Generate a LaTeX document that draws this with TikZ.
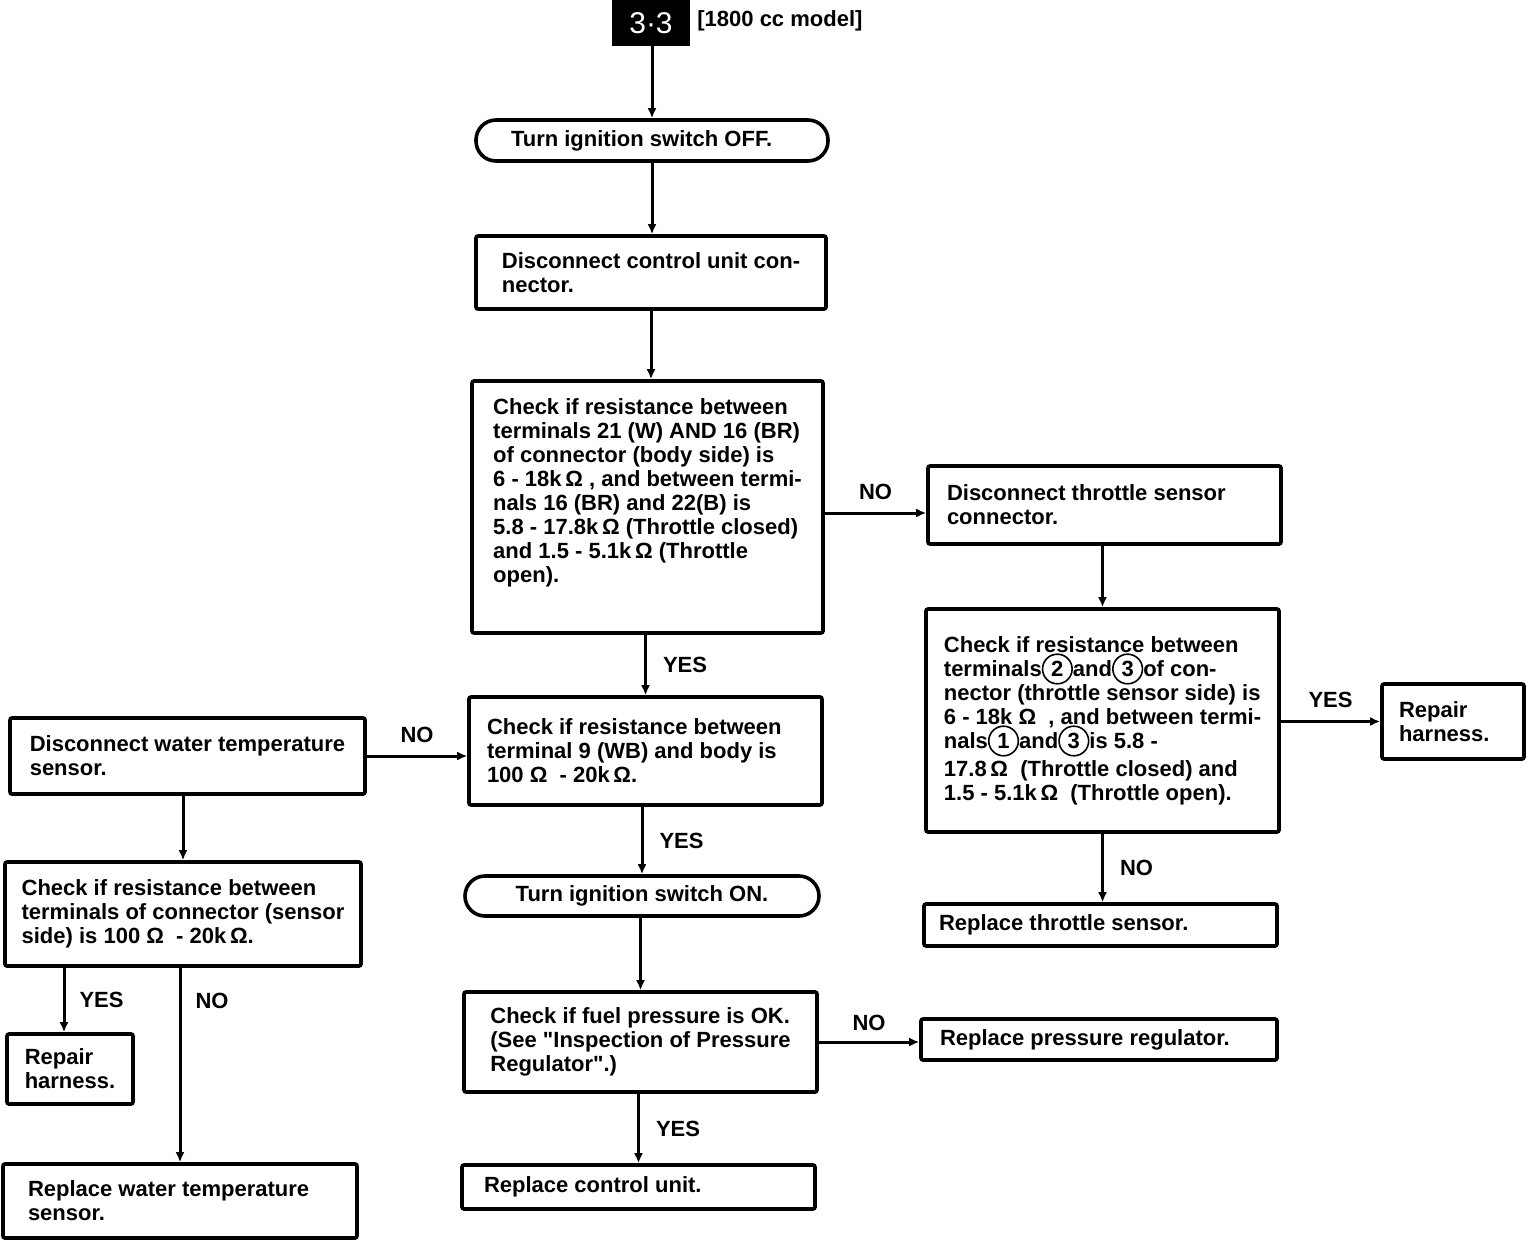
\documentclass[tikz,border=0pt]{standalone}
\usepackage{fontspec}
\setmainfont{Liberation Sans}
\usetikzlibrary{arrows.meta}
\usetikzlibrary{positioning}
\tikzset{box/.style = {draw, line width=1.8pt, rounded corners=1pt, align=flush left,
                       inner xsep=0pt, inner ysep=0pt},
         pill/.style = {draw, line width=1.8pt, rounded corners=10pt, align=center,
                        inner xsep=0pt, inner ysep=0pt},
         tag/.style = {fill=black, text=white, inner sep=0pt,
                       font=\fontsize{15}{15}\selectfont},
         flow/.style = {line width=1.5pt, -{Latex[length=5pt, width=4.5pt]}},
         answer/.style = {inner sep=2pt}}
\newcommand{\cnum}[1]{\smash{\tikz[baseline]{\draw[line width=0.8pt] (0pt,3.6pt) circle [radius=7.4pt];
    \pgftext[base]{#1}}}}

\begin{document}
\begin{tikzpicture}[x=0.5pt, y=-0.5pt, font=\bfseries\fontsize{11}{12}\selectfont]
    \useasboundingbox (0,0) rectangle (1536,1242);

    % main column
    \node[tag, minimum width=39pt, minimum height=23pt] (tag) at (651,23) {3·3};
    \node[anchor=west, inner sep=0pt] (model) at (697,21) {[1800 cc model]};
    \node[pill, minimum width=176pt, minimum height=20.5pt, text width=141pt,
          inner xsep=17.5pt, align=flush left] (off) at (652,140.5) {Turn ignition switch OFF.};
    \node[box, minimum width=175pt, minimum height=36.5pt] (unplug) at (651,272.5)
        {Disconnect control unit con-\\nector.};
    \node[box, minimum width=175.5pt, minimum height=126pt] (check) at (647.5,507)
        {Check if resistance between\\
         terminals 21 (W) AND 16 (BR)\\
         of connector (body side) is\\
         6 - 18k\,Ω , and between termi-\\
         nals 16 (BR) and 22(B) is\\
         5.8 - 17.8k\,Ω (Throttle closed)\\
         and 1.5 - 5.1k\,Ω (Throttle\\
         open).\\[4pt]\mbox{}};
    \node[box, minimum width=176.5pt, minimum height=54pt, text width=158.5pt,
          inner xsep=9pt] (wtcheck) at (645.5,751)
        {Check if resistance between\\
         terminal 9 (WB) and body is\\
         100 Ω \ - 20k\,Ω.};
    \node[pill, minimum width=177pt, minimum height=20pt] (on) at (642,896)
        {Turn ignition switch ON.};
    \node[box, minimum width=176.5pt, minimum height=50pt] (fuel) at (640.5,1042)
        {Check if fuel pressure is OK.\\
         (See \textquotedbl Inspection of Pressure\\
         Regulator\textquotedbl.)};
    \node[box, minimum width=176.5pt, minimum height=22pt, text width=154.5pt,
          inner xsep=11pt] (unit) at (638.5,1187) {Replace control unit.};

    % throttle sensor branch
    \node[box, minimum width=176.5pt, minimum height=39pt, text width=157.5pt,
          inner xsep=9.5pt] (thunplug) at (1104.5,505)
        {Disconnect throttle sensor\\connector.};
    \node[box, minimum width=176.5pt, minimum height=111.5pt] (thcheck) at (1102.5,720.5)
        {Check if resistance between\\
         terminals\cnum{2}and\cnum{3}of con-\\
         nector (throttle sensor side) is\\
         6 - 18k Ω \ , and between termi-\\
         nals\cnum{1}and\cnum{3}is 5.8 -\\[2pt]
         17.8\,Ω \ (Throttle closed) and\\
         1.5 - 5.1k\,Ω \ (Throttle open).};
    \node[box, minimum width=71pt, minimum height=37.5pt, text width=54pt,
          inner xsep=8.5pt] (threpair) at (1453,721.5) {Repair\\harness.};
    \node[box, minimum width=176.5pt, minimum height=21pt, text width=161.5pt,
          inner xsep=7.5pt] (threplace) at (1100.5,925) {Replace throttle sensor.};
    \node[box, minimum width=178pt, minimum height=20.5pt, text width=159pt,
          inner xsep=9.5pt] (regulator) at (1099,1039.5) {Replace pressure regulator.};

    % water temperature sensor branch
    \node[box, minimum width=177.5pt, minimum height=38pt] (wtunplug) at (187.5,756)
        {Disconnect water temperature\\sensor.};
    \node[box, minimum width=178pt, minimum height=52pt] (wscheck) at (183,914)
        {Check if resistance between\\
         terminals of connector (sensor\\
         side) is 100 Ω \ - 20k\,Ω.};
    \node[box, minimum width=63pt, minimum height=35pt] (wsrepair) at (70,1069)
        {Repair\\harness.};
    \node[box, minimum width=177pt, minimum height=37pt, text width=152pt,
          inner xsep=12.5pt] (wsreplace) at (180,1201)
        {Replace water temperature\\sensor.};

    % connectors
    \coordinate (noin) at ([yshift=-4pt]thunplug.west);
    \coordinate (yesin) at ([xshift=-3pt]wsrepair.north);

    \draw[flow] (off.north |- tag.south) -- (off.north);
    \draw[flow] (off.south) -- (off.south |- unplug.north);
    \draw[flow] (unplug.south) -- (unplug.south |- check.north);
    \draw[flow] (wtcheck.north |- check.south) -- node[answer, right=6pt] {YES} (wtcheck.north);
    \draw[flow] (check.east |- noin) -- node[answer, above=4pt] {NO} (noin);
    \draw[flow] (thcheck.north |- thunplug.south) -- (thcheck.north);
    \draw[flow] (thcheck.east |- threpair.west) -- node[answer, above=4pt] {YES} (threpair.west);
    \draw[flow] (thcheck.south) -- node[answer, right=6pt] {NO} (thcheck.south |- threplace.north);
    \draw[flow] (wtunplug.east) -- node[answer, above=4pt] {NO} (wtunplug.east -| wtcheck.west);
    \draw[flow] (on.north |- wtcheck.south) -- node[answer, right=6pt] {YES} (on.north);
    \draw[flow] (fuel.north |- on.south) -- (fuel.north);
    \draw[flow] (fuel.east) -- node[answer, above=3pt] {NO} (fuel.east -| regulator.west);
    \draw[flow] (unit.north |- fuel.south) -- node[answer, right=6pt] {YES} (unit.north);
    \draw[flow] (wscheck.north |- wtunplug.south) -- (wscheck.north);
    \draw[flow] (yesin |- wscheck.south) -- node[answer, right=5pt] {YES} (yesin);
    \draw[flow] (wsreplace.north |- wscheck.south) -- node[answer, right=5pt, pos=0.17] {NO} (wsreplace.north);
\end{tikzpicture}
\end{document}
